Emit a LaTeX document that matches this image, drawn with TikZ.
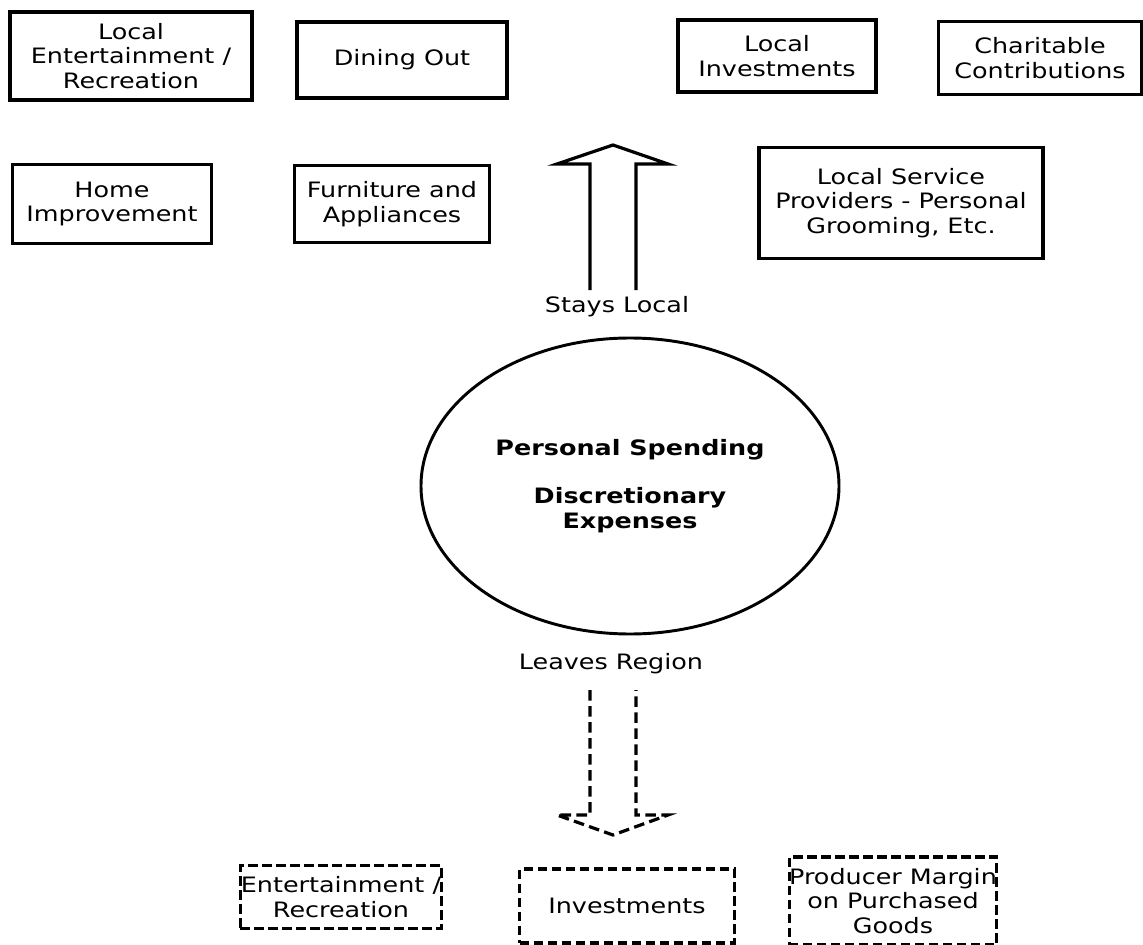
\documentclass[tikz,border=0pt]{standalone}
\usepackage{fontspec}
\setmainfont{DejaVu Sans}[FakeStretch=1.2]
\usetikzlibrary{positioning,shapes.geometric}

\tikzset{
  every node/.style={font=\fontsize{15.9pt}{18.5pt}\selectfont},
  localbox/.style={draw, line width=2.7pt, align=center, inner sep=0pt},
  awaybox/.style={draw, line width=2.4pt, dash pattern=on 7pt off 3.5pt, align=center, inner sep=0pt},
  flowarrow/.style={line width=2.4pt, line join=miter},
}

\begin{document}
\begin{tikzpicture}[x=0.75pt, y=-0.75pt]
    \useasboundingbox (0,0) rectangle (1143,945);
    % spending that stays local
    \node[localbox, minimum width=181.5pt, minimum height=66pt] (localent) at (131,56) {Local\\Entertainment /\\Recreation};
    \node[localbox, minimum width=157.5pt, minimum height=57pt] (dining) at (402,60) {Dining Out};
    \node[localbox, minimum width=148.5pt, minimum height=54pt] (localinv) at (777,56) {Local\\Investments};
    \node[localbox, minimum width=152pt, minimum height=55pt] (charity) at (1040,58) {Charitable\\Contributions};
    \node[localbox, minimum width=149pt, minimum height=59pt] (homeimp) at (112,204) {Home\\Improvement};
    \node[localbox, minimum width=146pt, minimum height=58pt] (furniture) at (392,204) {Furniture and\\Appliances};
    \node[localbox, minimum width=213pt, minimum height=83pt] (services) at (901,203) {Local Service\\Providers - Personal\\Grooming, Etc.};

    % central spending
    \node[draw, ellipse, line width=2.2pt, minimum width=313.5pt, minimum height=222pt, align=center] (spend) at (630,486)
        {\textbf{Personal Spending}\\[18pt]\textbf{Discretionary}\\\textbf{Expenses}};

    \node (stays) at (617,307) {Stays Local};
    \node (leaves) at (611,664) {Leaves Region};

    % block arrows
    \draw[flowarrow] (590,290) -- (590,164) -- (557,164) -- (613,145) -- (668,164) -- (636,164) -- (636,290);
    \draw[flowarrow, dash pattern=on 8pt off 4pt] (590,690) -- (590,815) -- (557,815) -- (613,835) -- (668,815) -- (636,815) -- (636,690);

    % spending that leaves the region
    \node[awaybox, minimum width=151pt, minimum height=47pt] (awayent) at (341,897) {Entertainment /\\Recreation};
    \node[awaybox, minimum width=161pt, minimum height=55.5pt] (awayinv) at (627,906) {Investments};
    \node[awaybox, minimum width=155pt, minimum height=66pt] (producer) at (893,901) {Producer Margin\\on Purchased\\Goods};
\end{tikzpicture}
\end{document}
